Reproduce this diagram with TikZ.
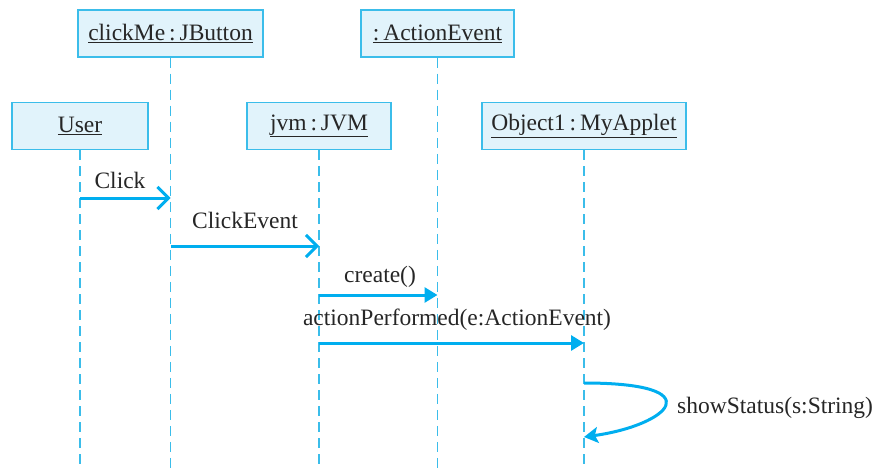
\documentclass[tikz,border=0pt]{standalone}
\usepackage{fontspec}
\setmainfont{Liberation Serif}
\usetikzlibrary{arrows.meta}
\definecolor{lifecyan}{HTML}{3BBDEA}
\definecolor{boxfill}{HTML}{E1F3FB}
\definecolor{msgcyan}{HTML}{00AEEF}

\begin{document}
\begin{tikzpicture}[x=1pt,y=-1pt,every node/.style={font=\fontsize{23.5}{27}\selectfont,text=black!85},
    obj/.style={draw=lifecyan,fill=boxfill,line width=1.5pt,minimum height=47pt,inner sep=0pt},
    life/.style={draw=lifecyan,line width=1.8pt,dash pattern=on 10pt off 6pt},
    msg/.style={draw=msgcyan,line width=3pt}]
    \useasboundingbox (0,0) rectangle (880,468);
    \coordinate (bottom) at (0,468);
    % objects, top row and second row
    \node[obj,minimum width=185pt] (btn) at (170.5,33.5) {\underline{clickMe\,:\,JButton}};
    \node[obj,minimum width=153pt] (evt) at (437.5,33.5) {\underline{:\,ActionEvent}};
    \node[obj,minimum width=136pt] (user) at (80,126) {\underline{User}};
    \node[obj,minimum width=144pt] (jvm) at (319,126) {\underline{jvm\,:\,JVM}};
    \node[obj,minimum width=204pt] (app) at (584,126) {\underline{Object1\,:\,MyApplet}};
    % lifelines
    \foreach \o in {user,btn,jvm,evt,app}
      \draw[life] (\o.south) -- (\o.south |- bottom);
    % messages
    \draw[msg,-{Straight Barb[length=11pt,width=22pt]}] (user.south |- 0,198) -- (btn.south |- 0,198);
    \draw[msg,-{Straight Barb[length=11pt,width=22pt]}] (btn.south |- 0,246) -- (jvm.south |- 0,246);
    \draw[msg,-{Triangle[length=13pt,width=15pt]}] (jvm.south |- 0,295) -- (evt.south |- 0,295);
    \draw[msg,-{Triangle[length=13pt,width=15pt]}] (jvm.south |- 0,343) -- (app.south |- 0,343);
    % self call
    \draw[msg,-{Stealth[length=14pt,width=16pt,inset=3pt]}] (app.south |- 0,383)
      .. controls +(130,0) and +(85,-12) .. (app.south |- 0,437);
    % labels
    \node (lclick) at (120,180) {Click};
    \node (lcev) at (245,220) {ClickEvent};
    \node (lcreate) at (380,277) {create()};
    \node (lperf) at (457,320) {actionPerformed(e:ActionEvent)};
    \node[anchor=west,inner sep=0pt] (lshow) at (677,408) {showStatus(s:String)};
\end{tikzpicture}
\end{document}
